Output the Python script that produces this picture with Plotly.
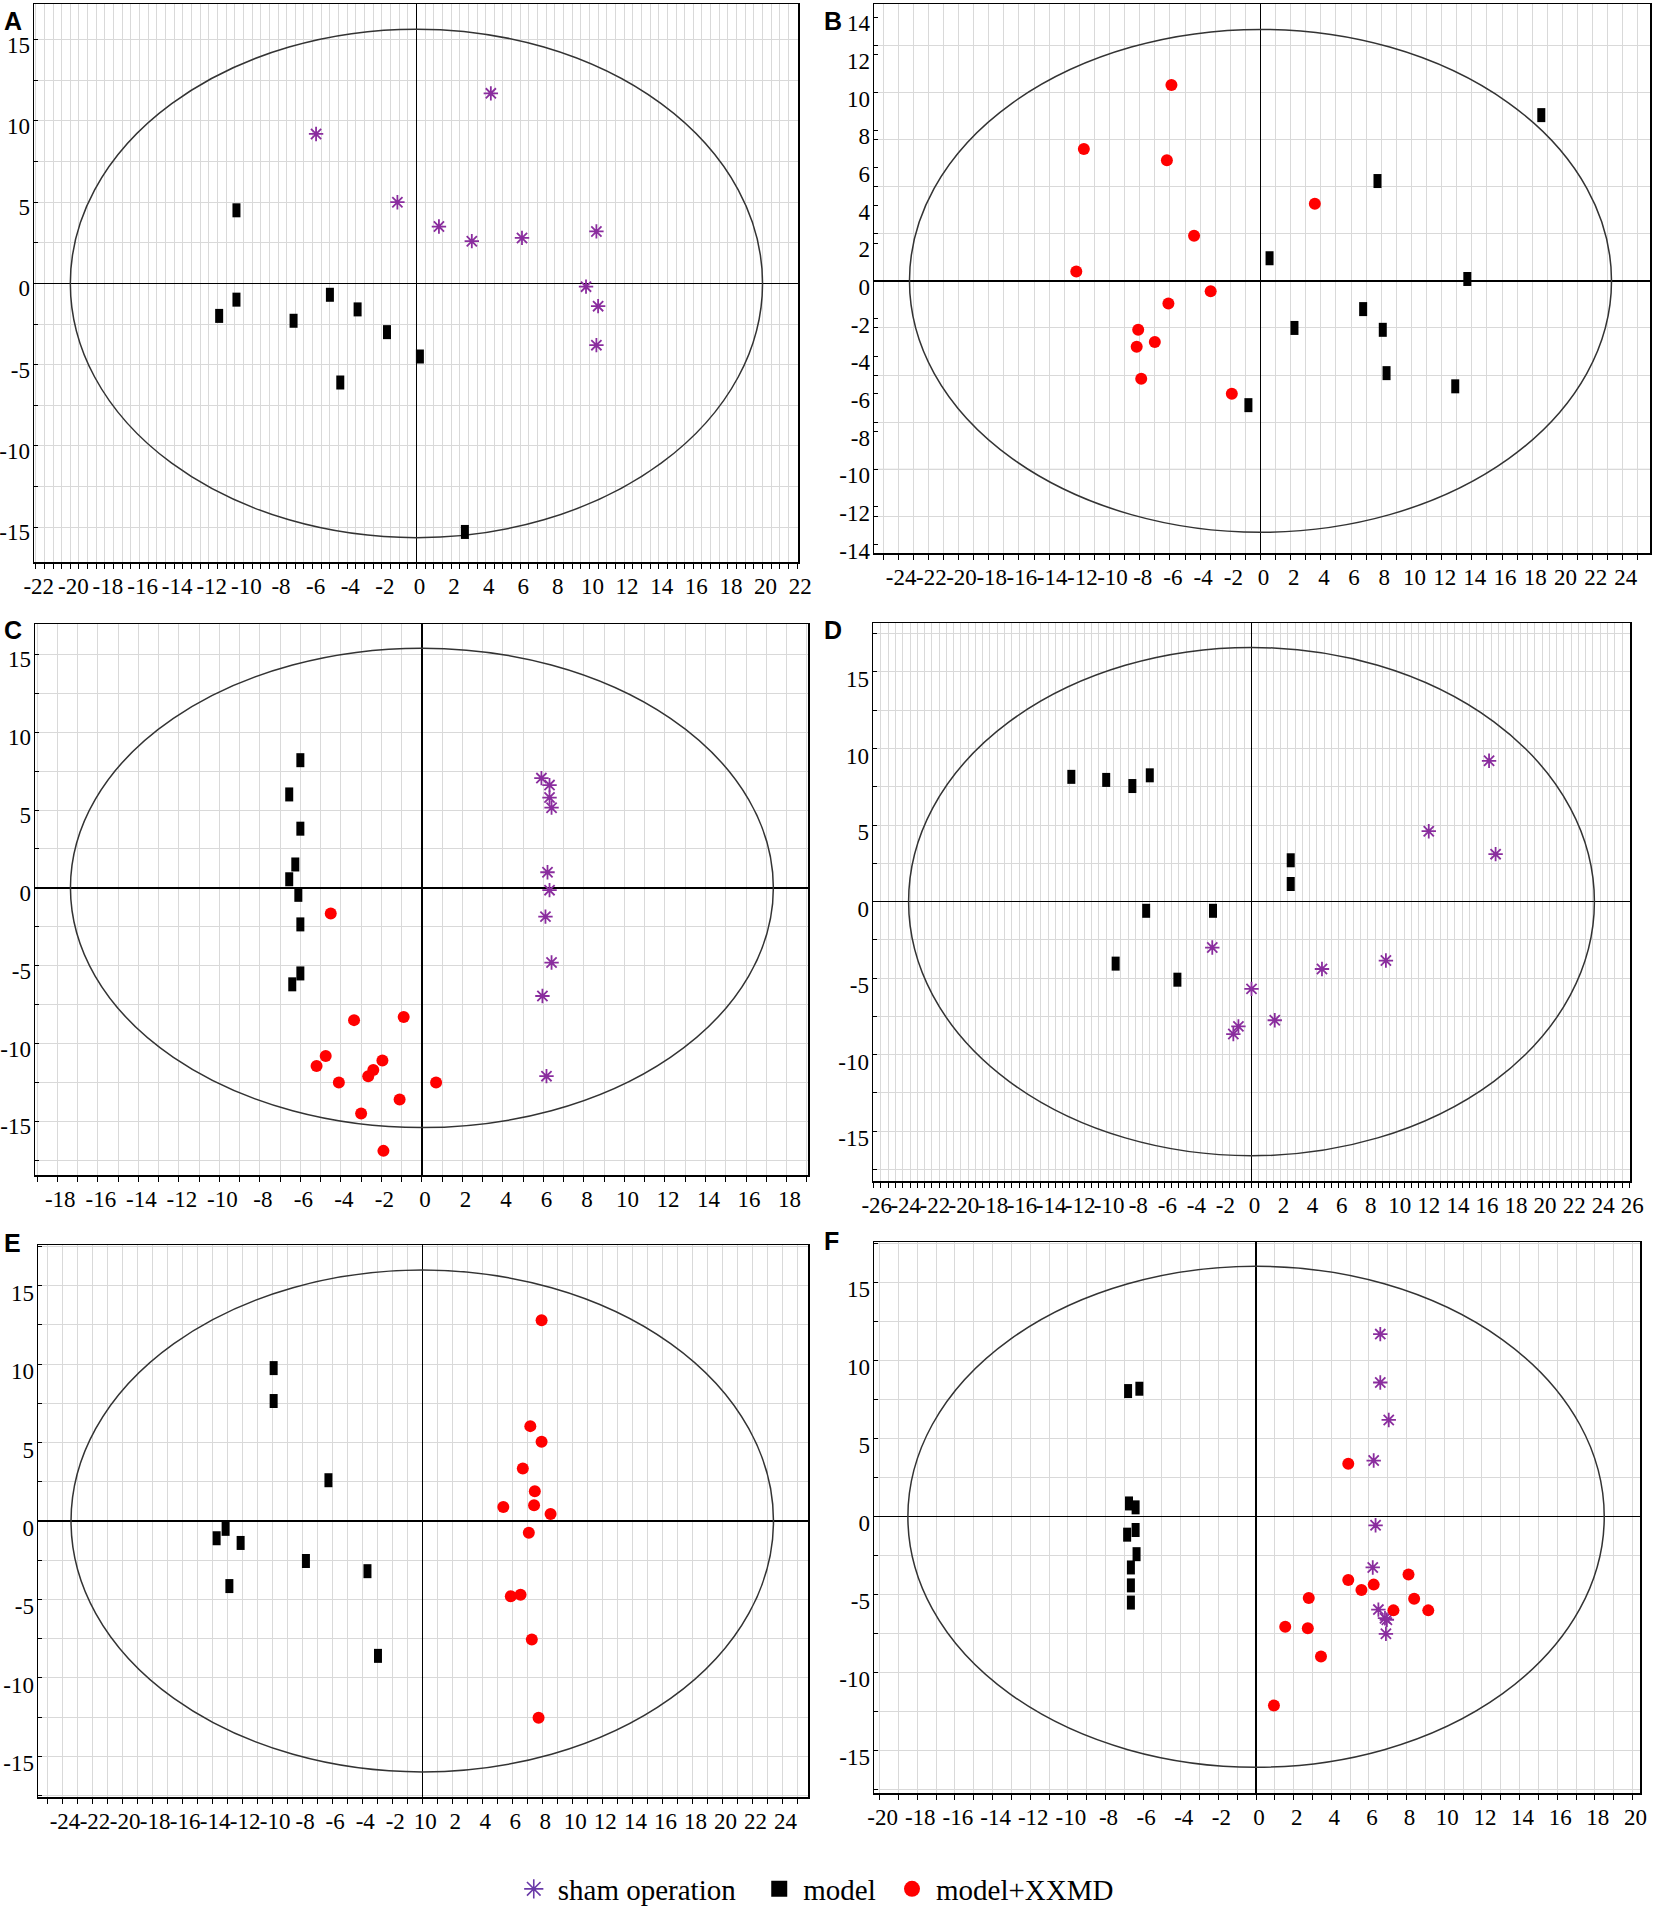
import plotly.graph_objects as go

# ---------------- data ----------------
PANELS = ["A", "B", "C", "D", "E", "F"]

A_sham_x = [-5.8, 4.3, -1.1, 1.3, 3.2, 6.1, 10.4, 9.8, 10.5, 10.4]
A_sham_y = [9.2, 11.7, 5.0, 3.5, 2.6, 2.8, 3.2, -0.2, -1.4, -3.8]
A_model_x = [-10.4, -10.4, -11.4, -7.1, -5.0, -3.4, -1.7, 0.2, -4.4, 2.8]
A_model_y = [4.5, -1.0, -2.0, -2.3, -0.7, -1.6, -3.0, -4.5, -6.1, -15.3]

B_xxmd_x = [-5.9, -11.7, -6.2, 3.6, -4.4, -12.2, -3.3, -6.1, -8.1, -8.2, -7.0, -7.9, -1.9]
B_xxmd_y = [10.4, 7.0, 6.4, 4.1, 2.4, 0.5, -0.55, -1.2, -2.6, -3.5, -3.25, -5.2, -6.0]
B_model_x = [18.6, 7.75, 0.6, 13.7, 6.8, 2.25, 8.1, 8.35, 12.9, -0.8]
B_model_y = [8.8, 5.3, 1.2, 0.1, -1.5, -2.5, -2.6, -4.9, -5.6, -6.6]

C_model_x = [-6.0, -6.55, -6.0, -6.25, -6.55, -6.1, -6.0, -6.0, -6.4]
C_model_y = [8.2, 6.0, 3.8, 1.5, 0.55, -0.45, -2.35, -5.5, -6.2]
C_sham_x = [5.9, 6.3, 6.3, 6.4, 6.2, 6.3, 6.1, 6.4, 5.95, 6.15]
C_sham_y = [7.05, 6.6, 5.8, 5.15, 1.0, -0.15, -1.85, -4.8, -6.95, -12.1]
C_xxmd_x = [-4.5, -3.35, -0.9, -4.75, -5.2, -1.95, -2.4, -2.65, -4.1, 0.7, -1.1, -3.0, -1.9]
C_xxmd_y = [-1.65, -8.5, -8.3, -10.8, -11.45, -11.1, -11.7, -12.1, -12.5, -12.5, -13.6, -14.5, -16.9]

D_model_x = [-12.4, -10.0, -8.2, -7.0, 2.7, 2.7, -7.25, -2.65, -9.35, -5.1]
D_model_y = [8.15, 7.95, 7.55, 8.25, 2.7, 1.15, -0.6, -0.6, -4.05, -5.1]
D_sham_x = [16.35, 12.2, 16.8, -2.7, 4.85, 9.25, 0.0, 1.6, -0.9, -1.25]
D_sham_y = [9.2, 4.6, 3.1, -3.0, -4.4, -3.85, -5.7, -7.75, -8.15, -8.65]

E_model_x = [-9.9, -9.9, -6.25, -13.1, -13.7, -12.1, -7.75, -3.65, -12.85, -2.95]
E_model_y = [9.75, 7.65, 2.6, -0.5, -1.1, -1.4, -2.55, -3.2, -4.15, -8.6]
E_xxmd_x = [7.95, 7.2, 7.95, 6.7, 7.5, 5.4, 7.45, 8.55, 7.1, 5.9, 6.55, 7.3, 7.75]
E_xxmd_y = [12.8, 6.05, 5.05, 3.35, 1.9, 0.9, 1.0, 0.45, -0.75, -4.8, -4.7, -7.55, -12.55]

F_model_x = [-6.8, -6.2, -6.75, -6.4, -6.4, -6.85, -6.35, -6.65, -6.65, -6.65]
F_model_y = [8.05, 8.2, 0.85, 0.6, -0.85, -1.15, -2.4, -3.25, -4.4, -5.5]
F_sham_x = [6.6, 6.6, 7.05, 6.25, 6.35, 6.2, 6.5, 6.85, 6.95, 6.9]
F_sham_y = [11.7, 8.6, 6.2, 3.6, -0.55, -3.25, -5.95, -6.5, -6.6, -7.5]
F_xxmd_x = [4.9, 4.9, 5.6, 6.25, 8.1, 8.4, 9.15, 7.3, 2.8, 1.55, 2.75, 3.45, 0.95]
F_xxmd_y = [3.4, -4.05, -4.7, -4.35, -3.7, -5.25, -6.0, -6.0, -5.2, -7.05, -7.15, -8.95, -12.1]

# Hotelling T2 ellipse semi-axes per panel
ELLIPSE_AX = [20.0, 23.25, 17.35, 23.6, 23.4, 18.5]
ELLIPSE_AY = [15.65, 13.35, 15.4, 16.6, 16.0, 16.05]

# tick labels
A_xticks = list(range(-22, 23, 2))
B_xticks = list(range(-24, 25, 2))
C_xticks = list(range(-18, 19, 2))
D_xticks = list(range(-26, 27, 2))
E_xticks = list(range(-24, 25, 2))
F_xticks = list(range(-20, 21, 2))
Y5_ticks = [-15, -10, -5, 0, 5, 10, 15]
B_yticks = list(range(-14, 15, 2))
E_zero_label = "10"

LEGEND_NAMES = ["sham operation", "model", "model+XXMD"]

# ---------------- styling / layout ----------------
W, H = 1655, 1918
PURPLE = "#8A2D9E"
LEG_PURPLE = "#6A3AA8"
RED = "#FF0000"
GRID = "#d9d9d9"
SERIF = "Liberation Serif, Times New Roman, serif"

# plot boxes in pixels: left, right, top, bottom
BOXES = [
    (34, 798, 4, 562),
    (874, 1650, 4, 553),
    (35, 808, 624, 1175),
    (873, 1630, 623, 1181),
    (38, 808, 1245, 1797),
    (874, 1640, 1242, 1793),
]
LETTER_TOPS = [8, 8, 617, 617, 1230, 1228]
XRANGES = [(-22.1, 22.05), (-25.6, 25.8), (-19.1, 19.06), (-26.05, 26.05), (-25.6, 25.7), (-20.3, 20.4)]
YRANGES = [(-17.15, 17.2), (-14.45, 14.7), (-18.45, 16.95), (-18.25, 18.2), (-17.6, 17.6), (-17.7, 17.6)]
XMINOR = [0.5, 1, 1, 0.5, 1, 1]
XTICKS = [A_xticks, B_xticks, C_xticks, D_xticks, E_xticks, F_xticks]
YTICKS = [Y5_ticks, B_yticks, Y5_ticks, Y5_ticks, Y5_ticks, Y5_ticks]
YLABEL_SHIFT = [5, 6, 5, 7, 7, 6]


def lab(v):
    return str(v)


fig = go.Figure()

SERIES = {
    "A": [("sham", A_sham_x, A_sham_y), ("model", A_model_x, A_model_y)],
    "B": [("xxmd", B_xxmd_x, B_xxmd_y), ("model", B_model_x, B_model_y)],
    "C": [("model", C_model_x, C_model_y), ("sham", C_sham_x, C_sham_y), ("xxmd", C_xxmd_x, C_xxmd_y)],
    "D": [("model", D_model_x, D_model_y), ("sham", D_sham_x, D_sham_y)],
    "E": [("model", E_model_x, E_model_y), ("xxmd", E_xxmd_x, E_xxmd_y)],
    "F": [("model", F_model_x, F_model_y), ("sham", F_sham_x, F_sham_y), ("xxmd", F_xxmd_x, F_xxmd_y)],
}

MARKERS = {
    "sham": dict(symbol="asterisk-open", size=12, color=PURPLE, line=dict(color=PURPLE, width=1.8)),
    "model": dict(symbol="line-ns", size=10, color="black", line=dict(color="black", width=8)),
    "xxmd": dict(symbol="circle", size=12, color=RED, line=dict(width=0)),
}

shapes = []
annotations = []
for i, p in enumerate(PANELS):
    n = "" if i == 0 else str(i + 1)
    xa, ya = "x" + n, "y" + n
    for kind, xs, ys in SERIES[p]:
        fig.add_trace(go.Scatter(x=xs, y=ys, mode="markers", marker=MARKERS[kind],
                                 xaxis=xa, yaxis=ya, showlegend=False, hoverinfo="skip"))
    l, r, t, b = BOXES[i]
    xt = XTICKS[i]
    xtext = [lab(v) for v in xt]
    if p == "E":
        xtext = [E_zero_label if v == 0 else lab(v) for v in xt]
    yt = YTICKS[i]
    fig.update_layout(**{
        ("xaxis" + n): dict(
            domain=[l / W, r / W], anchor=ya, range=list(XRANGES[i]), automargin=False,
            tickmode="array", tickvals=xt, ticktext=xtext, tickangle=0,
            ticks="outside", ticklen=5, tickcolor="black", tickwidth=1,
            showgrid=True, gridcolor=GRID, gridwidth=1,
            minor=dict(dtick=XMINOR[i], tick0=0, ticks="outside", ticklen=5, tickcolor="black",
                       showgrid=True, gridcolor=GRID, gridwidth=1),
            showline=True, linecolor="black", linewidth=1.5, mirror=True,
            zeroline=True, zerolinecolor="black", zerolinewidth=1.5,
            tickfont=dict(family=SERIF, size=23, color="black"),
            ticklabelstandoff=-2, ticklabelshift=3, ticklabeloverflow="allow",
        ),
        ("yaxis" + n): dict(
            domain=[1 - b / H, 1 - t / H], anchor=xa, range=list(YRANGES[i]), automargin=False,
            tickmode="array", tickvals=yt, ticktext=[lab(v) for v in yt],
            ticks="inside", ticklen=4, tickcolor="black", tickwidth=1,
            showgrid=(p != "B"), gridcolor=GRID, gridwidth=1,
            minor=dict(dtick=2.5, tick0=0, ticks="inside", ticklen=4, tickcolor="black",
                       showgrid=True, gridcolor=GRID, gridwidth=1),
            showline=True, linecolor="black", linewidth=1.5, mirror=True,
            zeroline=True, zerolinecolor="black", zerolinewidth=1.5,
            tickfont=dict(family=SERIF, size=23, color="black"),
            ticklabelstandoff=-2, ticklabelshift=YLABEL_SHIFT[i], ticklabeloverflow="allow",
        ),
    })
    # T2 ellipse
    shapes.append(dict(type="circle", xref=xa, yref=ya,
                       x0=-ELLIPSE_AX[i], x1=ELLIPSE_AX[i], y0=-ELLIPSE_AY[i], y1=ELLIPSE_AY[i],
                       line=dict(color="#333333", width=1.5), layer="between"))
    if p == "B":
        for gv in (-10, 10):
            shapes.append(dict(type="line", xref=xa, yref=ya,
                               x0=XRANGES[i][0], x1=XRANGES[i][1], y0=gv, y1=gv,
                               line=dict(color=GRID, width=1), layer="below"))
    annotations.append(dict(text="<b>%s</b>" % p, xref="paper", yref="paper",
                            x=(2 if l < 500 else 822) / W, y=1 - LETTER_TOPS[i] / H,
                            xanchor="left", yanchor="top", showarrow=False, height=22, valign="middle",
                            font=dict(family="Liberation Sans, Arial, sans-serif", size=25, color="black")))

# legend-only traces
LEG_MARKERS = [
    dict(symbol="asterisk-open", size=16, color=LEG_PURPLE, line=dict(color=LEG_PURPLE, width=1.6)),
    dict(symbol="square", size=16, color="black", line=dict(width=0)),
    dict(symbol="circle", size=16, color=RED, line=dict(width=0)),
]
LEG_PAD = ["\u00a0\u00a0", "\u00a0", ""]
for name, mk, pad in zip(LEGEND_NAMES, LEG_MARKERS, LEG_PAD):
    fig.add_trace(go.Scatter(x=[None], y=[None], mode="markers", marker=mk, name=name + pad,
                             showlegend=True, xaxis="x", yaxis="y"))

fig.update_layout(
    width=W, height=H, margin=dict(l=0, r=0, t=0, b=0, autoexpand=False),
    paper_bgcolor="white", plot_bgcolor="white",
    shapes=shapes, annotations=annotations,
    showlegend=True,
    legend=dict(orientation="h", x=0.492, y=1 - 1889 / H, xanchor="center", yanchor="middle",
                font=dict(family=SERIF, size=29, color="black"), bgcolor="rgba(0,0,0,0)",
                itemwidth=38, itemclick=False, itemdoubleclick=False),
)

fig.write_html("out.html", config={"displayModeBar": False, "staticPlot": True},
               post_script="document.body.style.margin='0';document.body.style.overflow='hidden';")
